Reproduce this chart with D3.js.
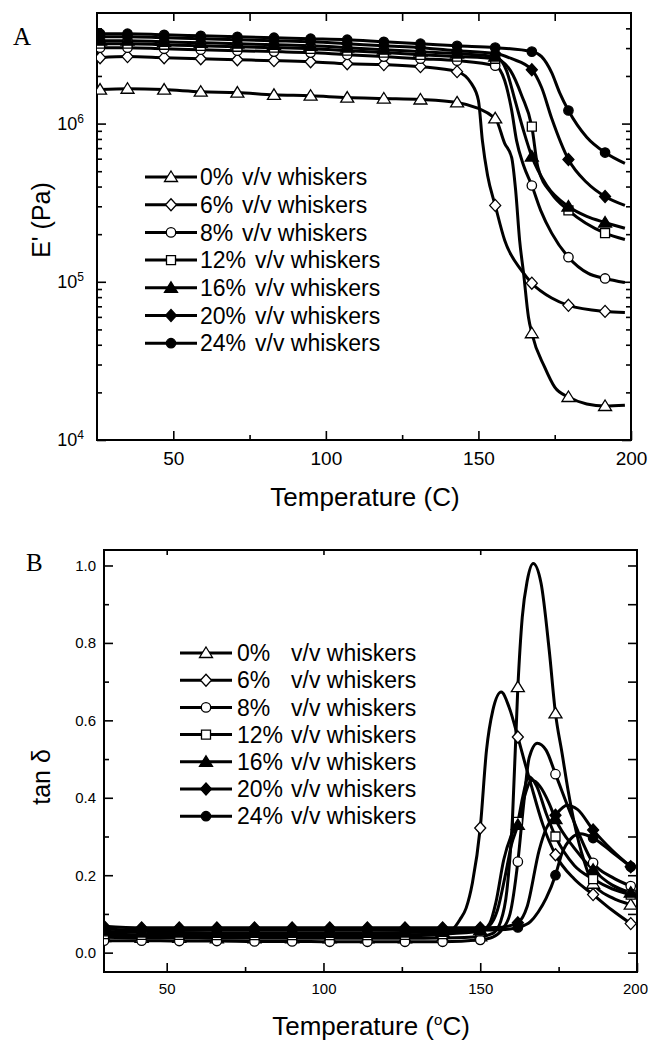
<!DOCTYPE html>
<html>
<head>
<meta charset="utf-8">
<script src="https://cdn.jsdelivr.net/npm/d3@7"></script>
<style>
  body { margin: 0; background: #fff; }
  text { font-family: Arial, "Liberation Sans", sans-serif; fill: #000; }
</style>
</head>
<body>
<svg id="fig" width="648" height="1043"></svg>
<script>
// ---------- data ----------
var seriesNames = ["0%", "6%", "8%", "12%", "16%", "20%", "24%"];
var seriesShapes = ["triangle", "diamond", "circle", "square", "triangle", "diamond", "circle"];
var seriesFilled = [false, false, false, false, true, true, true];

// panel A : storage modulus E' (Pa) vs temperature (C), [T, E']
var markerTempsA = [26, 35, 47, 59, 71, 83, 95, 107, 119, 131, 143, 155.5, 167.5, 179.5, 191.5];
var modulus0 = [[26,1.64e6],[35,1.66e6],[47,1.64e6],[59,1.59e6],[71,1.57e6],[83,1.52e6],[95,1.50e6],[107,1.46e6],[119,1.44e6],[131,1.42e6],[143,1.36e6],[155.5,1.08e6],[158.6,7.5e5],[160.9,6.1e5],[162.2,3.78e5],[163.5,1.83e5],[164.8,1.13e5],[166.4,5.97e4],[167.5,4.73e4],[171.7,2.89e4],[175,2.16e4],[179.5,1.87e4],[185.5,1.69e4],[191.5,1.64e4],[198,1.66e4]];
var modulus6 = [[26,2.61e6],[35,2.65e6],[47,2.61e6],[59,2.57e6],[71,2.53e6],[83,2.50e6],[95,2.46e6],[107,2.39e6],[119,2.36e6],[131,2.29e6],[143,2.13e6],[147.7,1.79e6],[150,1.40e6],[151.3,7.8e5],[153,4.7e5],[155.5,3.04e5],[158.6,1.83e5],[164.1,1.18e5],[167.5,9.8e4],[174,7.9e4],[179.5,7.1e4],[191.5,6.5e4],[198,6.4e4]];
var modulus8 = [[26,3.02e6],[35,3.02e6],[47,2.97e6],[59,2.93e6],[71,2.89e6],[83,2.85e6],[95,2.81e6],[107,2.72e6],[119,2.65e6],[131,2.57e6],[143,2.50e6],[155.5,2.32e6],[158.6,1.87e6],[160.9,1.21e6],[162.5,7.8e5],[164.8,5.43e5],[167.5,4.06e5],[170.4,2.83e5],[174,2.03e5],[179.5,1.43e5],[186,1.13e5],[191.5,1.05e5],[198,9.9e4]];
var modulus12 = [[26,3.20e6],[35,3.20e6],[47,3.15e6],[59,3.10e6],[71,3.06e6],[83,3.02e6],[95,2.97e6],[107,2.89e6],[119,2.81e6],[131,2.72e6],[143,2.65e6],[155.5,2.57e6],[160.5,2.16e6],[164.2,1.50e6],[167.5,9.57e5],[169.5,5.28e5],[174,3.61e5],[179.5,2.83e5],[191.5,2.03e5],[198,1.85e5]];
var modulus16 = [[26,3.34e6],[35,3.34e6],[47,3.29e6],[59,3.24e6],[71,3.20e6],[83,3.15e6],[95,3.10e6],[107,3.02e6],[119,2.93e6],[131,2.85e6],[143,2.77e6],[155.5,2.65e6],[159.2,2.16e6],[162,1.40e6],[164.8,9.0e5],[167.5,6.19e5],[172.4,4.06e5],[179.5,2.99e5],[185.5,2.59e5],[191.5,2.37e5],[198,2.18e5]];
var modulus20 = [[26,3.54e6],[35,3.54e6],[47,3.49e6],[59,3.44e6],[71,3.39e6],[83,3.34e6],[95,3.29e6],[107,3.20e6],[119,3.10e6],[131,3.02e6],[143,2.89e6],[155.5,2.77e6],[160.9,2.57e6],[167.5,2.19e6],[170.7,1.69e6],[174,1.08e6],[179.5,5.93e5],[185.5,4.24e5],[191.5,3.46e5],[198,3.04e5]];
var modulus24 = [[26,3.70e6],[35,3.70e6],[47,3.64e6],[59,3.59e6],[71,3.54e6],[83,3.49e6],[95,3.44e6],[107,3.39e6],[119,3.29e6],[131,3.20e6],[143,3.10e6],[155.5,3.02e6],[167.5,2.85e6],[170.7,2.65e6],[174,2.10e6],[176.6,1.57e6],[179.5,1.21e6],[185.5,8.2e5],[191.5,6.56e5],[198,5.6e5]];

// panel B : tan delta vs temperature (oC), [T, tan d]
var markerTempsB = [30, 42, 54, 66, 78, 90, 102, 114, 126, 138, 150, 162, 174, 186, 198];
var tan0 = [[30,0.040],[42,0.038],[54,0.038],[66,0.037],[78,0.037],[90,0.037],[102,0.037],[114,0.037],[126,0.037],[138,0.038],[150,0.042],[154,0.05],[156.5,0.08],[158.5,0.16],[160.3,0.35],[162,0.686],[163.4,0.866],[165,0.961],[166.9,1.005],[169.4,0.954],[172,0.781],[174,0.618],[176.1,0.515],[178,0.42],[180,0.335],[183,0.24],[186,0.178],[192,0.142],[198,0.124]];
var tan6 = [[30,0.045],[42,0.043],[54,0.043],[66,0.042],[78,0.042],[90,0.042],[102,0.042],[114,0.042],[126,0.043],[138,0.046],[141,0.058],[143.5,0.085],[145.5,0.115],[147.5,0.18],[150,0.322],[152,0.523],[154,0.625],[156.7,0.673],[159.2,0.634],[162,0.557],[164,0.497],[166,0.44],[170,0.33],[174,0.253],[180,0.19],[186,0.15],[192,0.11],[198,0.075]];
var tan8 = [[30,0.031],[42,0.031],[54,0.030],[66,0.030],[78,0.029],[90,0.029],[102,0.028],[114,0.028],[126,0.028],[138,0.028],[150,0.033],[154,0.04],[157,0.06],[159.5,0.1],[162,0.235],[163.8,0.38],[165.6,0.503],[168.2,0.541],[171,0.523],[174,0.461],[179.3,0.35],[186,0.232],[192,0.195],[198,0.172]];
var tan12 = [[30,0.048],[42,0.046],[54,0.046],[66,0.045],[78,0.045],[90,0.045],[102,0.045],[114,0.045],[126,0.046],[138,0.048],[150,0.055],[153,0.075],[155,0.13],[157.5,0.24],[160,0.305],[162,0.338],[163.5,0.4],[165.5,0.455],[168,0.43],[171,0.36],[174,0.3],[180,0.225],[186,0.19],[192,0.165],[198,0.15]];
var tan16 = [[30,0.055],[42,0.052],[54,0.052],[66,0.051],[78,0.051],[90,0.051],[102,0.051],[114,0.051],[126,0.052],[138,0.054],[150,0.058],[153,0.07],[155.5,0.11],[158,0.2],[160,0.28],[162,0.33],[164,0.4],[166.5,0.445],[169,0.43],[172,0.385],[174,0.345],[180,0.27],[186,0.214],[192,0.175],[198,0.155]];
var tan20 = [[30,0.068],[42,0.064],[54,0.064],[66,0.064],[78,0.064],[90,0.064],[102,0.064],[114,0.064],[126,0.064],[138,0.064],[150,0.064],[155,0.065],[158,0.067],[162,0.077],[165,0.12],[168.8,0.265],[171,0.32],[174,0.355],[177.7,0.381],[181,0.37],[186,0.317],[192,0.265],[198,0.222]];
var tan24 = [[30,0.062],[42,0.058],[54,0.058],[66,0.058],[78,0.058],[90,0.058],[102,0.058],[114,0.058],[126,0.058],[138,0.058],[150,0.058],[158,0.06],[162,0.065],[166,0.08],[168.5,0.105],[171,0.14],[174,0.2],[176,0.255],[179,0.295],[182,0.307],[186,0.296],[192,0.26],[198,0.222]];

var modulusSeries = [modulus0, modulus6, modulus8, modulus12, modulus16, modulus20, modulus24];
var tanSeries = [tan0, tan6, tan8, tan12, tan16, tan20, tan24];

var xTicksMajor = [50, 100, 150, 200];
var xTicksMinor = [75, 125, 175];
var tanTicksMajor = [0.0, 0.2, 0.4, 0.6, 0.8, 1.0];
var tanTicksMinor = [0.1, 0.3, 0.5, 0.7, 0.9];
var modTicksMajor = [1e4, 1e5, 1e6];
var modTicksMinor = [2e4,3e4,4e4,5e4,6e4,7e4,8e4,9e4,2e5,3e5,4e5,5e5,6e5,7e5,8e5,9e5,2e6,3e6,4e6];

// ---------- helpers ----------
var svg = d3.select("#fig");

function markerPath(shape) {
  if (shape === "triangle") return "M0,-6L6.5,4.5L-6.5,4.5Z";
  if (shape === "diamond") return "M0,-6L5.5,0L0,6L-5.5,0Z";
  if (shape === "square") return "M-4.5,-4.5H4.5V4.5H-4.5Z";
  return d3.symbol().type(d3.symbolCircle).size(Math.PI * 4.7 * 4.7)();
}

function drawMarker(g, shape, filled, x, y) {
  g.append("path")
    .attr("d", markerPath(shape))
    .attr("transform", "translate(" + x + "," + y + ")")
    .attr("fill", filled ? "#000" : "#fff")
    .attr("stroke", "#000")
    .attr("stroke-width", 1.3);
}

function drawPanel(cfg) {
  var x = cfg.x, y = cfg.y;
  var g = svg.append("g");
  var b = cfg.box;

  var clipId = "clip" + cfg.id;
  svg.append("clipPath").attr("id", clipId)
    .append("rect").attr("x", b.left).attr("y", b.top)
    .attr("width", b.right - b.left).attr("height", b.bottom - b.top);

  // ticks (all pointing inward)
  function axis(gen, scale, vals, size, pos, fmt, pad, fs) {
    var a = g.append("g").attr("transform", pos)
      .call(gen(scale).tickValues(vals).tickSize(-size).tickPadding(pad || 0)
        .tickFormat(fmt || ""));
    a.select(".domain").remove();
    a.selectAll("line").attr("stroke", "#000").attr("stroke-width", 1.6);
    a.selectAll("text").attr("font-size", fs || 16).attr("font-family", null);
    return a;
  }
  var bottomT = "translate(0," + b.bottom + ")", topT = "translate(0," + b.top + ")";
  var leftT = "translate(" + b.left + ",0)", rightT = "translate(" + b.right + ",0)";

  var xl = axis(d3.axisBottom, x, cfg.xMajor, 9, bottomT, d3.format("d"), cfg.xPad, cfg.xFont);
  if (cfg.lastShift) {
    xl.selectAll(".tick").filter(function (d) { return d === 200; })
      .select("text").attr("dx", cfg.lastShift);
  }
  axis(d3.axisBottom, x, cfg.xMinor, 5, bottomT);
  axis(d3.axisTop, x, cfg.topMajor, cfg.topSize, topT);
  if (cfg.topMinor) axis(d3.axisTop, x, cfg.topMinor, cfg.topSize, topT);
  var yl = axis(d3.axisLeft, y, cfg.yMajor, 9, leftT, cfg.yFormat, cfg.yPad, cfg.yFont);
  axis(d3.axisLeft, y, cfg.yMinor, 5, leftT);
  axis(d3.axisRight, y, cfg.yMajor, 9, rightT);
  axis(d3.axisRight, y, cfg.yMinor, cfg.rightMinor, rightT);
  if (cfg.yFormatPost) yl.selectAll("text").each(cfg.yFormatPost);

  // frame
  g.append("rect").attr("x", b.left).attr("y", b.top)
    .attr("width", b.right - b.left).attr("height", b.bottom - b.top)
    .attr("fill", "none").attr("stroke", "#000").attr("stroke-width", 2);

  // curves
  var line = d3.line().curve(d3.curveMonotoneX)
    .x(function (d) { return x(d[0]); })
    .y(function (d) { return y(d[1]); });
  var plot = g.append("g").attr("clip-path", "url(#" + clipId + ")");
  cfg.series.forEach(function (s) {
    plot.append("path").datum(s).attr("d", line)
      .attr("fill", "none").attr("stroke", "#000").attr("stroke-width", 3);
  });
  cfg.series.forEach(function (s, i) {
    s.filter(function (d) { return cfg.markers.indexOf(d[0]) >= 0; })
      .forEach(function (d) {
        drawMarker(plot, seriesShapes[i], seriesFilled[i], x(d[0]), y(d[1]));
      });
  });

  // legend
  var L = cfg.legend;
  seriesNames.forEach(function (name, i) {
    var yy = L.y0 + i * L.dy;
    g.append("line").attr("x1", L.x0).attr("x2", L.x1).attr("y1", yy).attr("y2", yy)
      .attr("stroke", "#000").attr("stroke-width", 3);
    drawMarker(g, seriesShapes[i], seriesFilled[i], (L.x0 + L.x1) / 2, yy);
    g.append("text").attr("x", L.tx).attr("y", yy).attr("dy", "0.36em")
      .attr("font-size", 23).text(name);
    var vx = L.vx || (L.tx + (name.length > 2 ? L.wide : L.narrow));
    g.append("text").attr("x", vx).attr("y", yy).attr("dy", "0.36em")
      .attr("font-size", 23).text("v/v whiskers");
  });
  return g;
}

// ---------- panel A ----------
var boxA = { left: 97, right: 631, top: 13, bottom: 440 };
var xA = d3.scaleLinear().domain([25, 200]).range([boxA.left, boxA.right]);
var yA = d3.scaleLog().domain([1e4, 5e6]).range([boxA.bottom, boxA.top]);

drawPanel({
  id: "A", x: xA, y: yA, box: boxA, series: modulusSeries, markers: markerTempsA,
  xMajor: xTicksMajor, xMinor: xTicksMinor, topMajor: [50, 100, 150], topMinor: xTicksMinor, topSize: 8,
  yMajor: modTicksMajor, yMinor: modTicksMinor, rightMinor: 5,
  xPad: 12, yPad: 13, xFont: 19, yFont: 18,
  yFormat: function (d) { return "10"; },
  yFormatPost: function (d) {
    var t = d3.select(this);
    t.text("");
    t.append("tspan").text("10");
    t.append("tspan").attr("dy", "-0.6em").attr("font-size", 12).text(Math.round(Math.log10(d)));
  },
  legend: { x0: 145, x1: 197, y0: 177, dy: 27.7, tx: 200, narrow: 42, wide: 55 }
});

svg.append("text").attr("x", 13).attr("y", 45)
  .style("font-family", "'Liberation Serif', 'Times New Roman', serif")
  .attr("font-size", 25).text("A");
svg.append("text").attr("x", 365).attr("y", 506).attr("text-anchor", "middle")
  .attr("font-size", 26).text("Temperature (C)");
svg.append("text").attr("transform", "translate(50,220) rotate(-90)")
  .attr("text-anchor", "middle").attr("font-size", 25).text("E' (Pa)");

// ---------- panel B ----------
var boxB = { left: 104, right: 637, top: 550, bottom: 972 };
var xB = d3.scaleLinear().domain([30, 200]).range([boxB.left, boxB.right]);
var yB = d3.scaleLinear().domain([-0.05, 1.04]).range([boxB.bottom, boxB.top]);

drawPanel({
  id: "B", x: xB, y: yB, box: boxB, series: tanSeries, markers: markerTempsB,
  xMajor: xTicksMajor, xMinor: xTicksMinor, topMajor: [50, 100, 150], topSize: 5,
  yMajor: tanTicksMajor, yMinor: tanTicksMinor, rightMinor: 9,
  xPad: 11, yPad: 8, xFont: 15, yFont: 15, lastShift: -2,
  yFormat: d3.format(".1f"),
  legend: { x0: 180, x1: 232, y0: 653, dy: 27.2, tx: 237, vx: 291 }
});

svg.append("text").attr("x", 26).attr("y", 571)
  .style("font-family", "'Liberation Serif', 'Times New Roman', serif")
  .attr("font-size", 25).text("B");
var tb = svg.append("text").attr("x", 371).attr("y", 1035).attr("text-anchor", "middle")
  .attr("font-size", 26);
tb.append("tspan").text("Temperature (");
tb.append("tspan").attr("dy", -10).attr("font-size", 15).text("o");
tb.append("tspan").attr("dy", 10).text("C)");
svg.append("text").attr("transform", "translate(50,777) rotate(-90)")
  .attr("text-anchor", "middle").attr("font-size", 25).text("tan \u03B4");
</script>
</body>
</html>
